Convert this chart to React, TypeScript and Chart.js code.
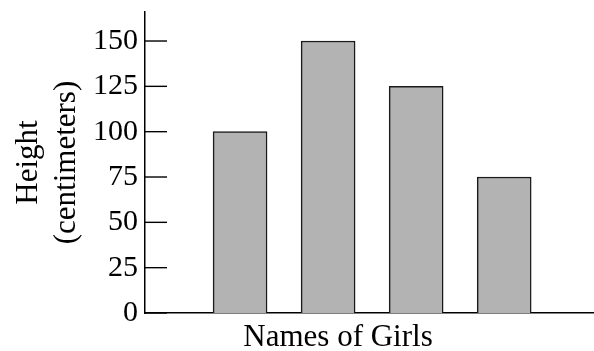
import React, { useEffect, useRef } from 'react';
import { Chart, registerables } from 'chart.js';

Chart.register(...registerables);

const categories = ['Girl 1', 'Girl 2', 'Girl 3', 'Girl 4'];
const heights = [100, 150, 125, 75];
const yTickValues = [0, 25, 50, 75, 100, 125, 150];
const yAxisTitle = ['Height', '(centimeters)'];
const xAxisTitle = 'Names of Girls';

export default function App() {
  const ref = useRef<HTMLCanvasElement>(null);

  useEffect(() => {
    document.body.style.margin = '0';
    const canvas = ref.current;
    if (!canvas) return;

    const innerTicks = {
      id: 'innerTicks',
      afterDraw(chart: any) {
        const ys = chart.scales.y;
        const ctx = chart.ctx;
        const x0 = chart.chartArea.left;
        ctx.save();
        ctx.strokeStyle = '#000';
        ctx.lineWidth = 1.4;
        yTickValues.forEach((v) => {
          const py = ys.getPixelForValue(v);
          ctx.beginPath();
          ctx.moveTo(x0, py);
          ctx.lineTo(x0 + 22, py);
          ctx.stroke();
        });
        ctx.restore();
      },
    };

    const xTitlePlugin = {
      id: 'xTitlePlugin',
      afterDraw(chart: any) {
        const ctx = chart.ctx;
        const area = chart.chartArea;
        ctx.save();
        ctx.fillStyle = '#000';
        ctx.font = '31px "Liberation Serif"';
        ctx.textAlign = 'center';
        ctx.textBaseline = 'alphabetic';
        ctx.fillText(xAxisTitle, area.left + 193, area.bottom + 33);
        ctx.restore();
      },
    };

    const chart = new Chart(canvas, {
      type: 'bar',
      data: {
        labels: categories,
        datasets: [
          {
            data: heights.map((h, i) => ({ x: i, y: h })),
            backgroundColor: '#b3b3b3',
            borderColor: '#1a1a1a',
            borderWidth: 1.5,
            barThickness: 54,
          },
        ],
      },
      options: {
        animation: false,
        responsive: true,
        maintainAspectRatio: false,
        layout: { padding: { top: 12, left: 0, right: 0, bottom: 0 } },
        plugins: {
          legend: { display: false },
          tooltip: { enabled: false },
          title: { display: false },
        },
        scales: {
          x: {
            type: 'linear',
            offset: false,
            min: -1.08,
            max: 4.02,
            grid: { display: false, offset: false },
            ticks: { display: false },
            border: { display: true, color: '#000', width: 1.5 },
            afterFit: (s: any) => {
              s.height = 38;
              s.paddingLeft = 0;
              s.paddingRight = 0;
            },
          },
          y: {
            min: 0,
            max: 166,
            grid: { display: false, drawTicks: false },
            border: { display: true, color: '#000', width: 1.5 },
            ticks: {
              stepSize: 25,
              includeBounds: false,
              padding: 7,
              color: '#000',
              font: { family: '"Liberation Serif"', size: 30 },
            },
            title: {
              display: true,
              text: yAxisTitle,
              color: '#000',
              font: { family: '"Liberation Serif"', size: 31, lineHeight: 1.22 },
              padding: { top: 10, bottom: 0 },
            },
            afterFit: (s: any) => {
              s.width = 145;
              s.paddingTop = 0;
              s.paddingBottom = 0;
            },
          },
        },
      },
      plugins: [innerTicks, xTitlePlugin],
    } as any);

    return () => chart.destroy();
  }, []);

  return (
    <div style={{ position: 'absolute', left: 0, top: 0, width: 594, height: 351 }}>
      <canvas ref={ref} />
    </div>
  );
}
